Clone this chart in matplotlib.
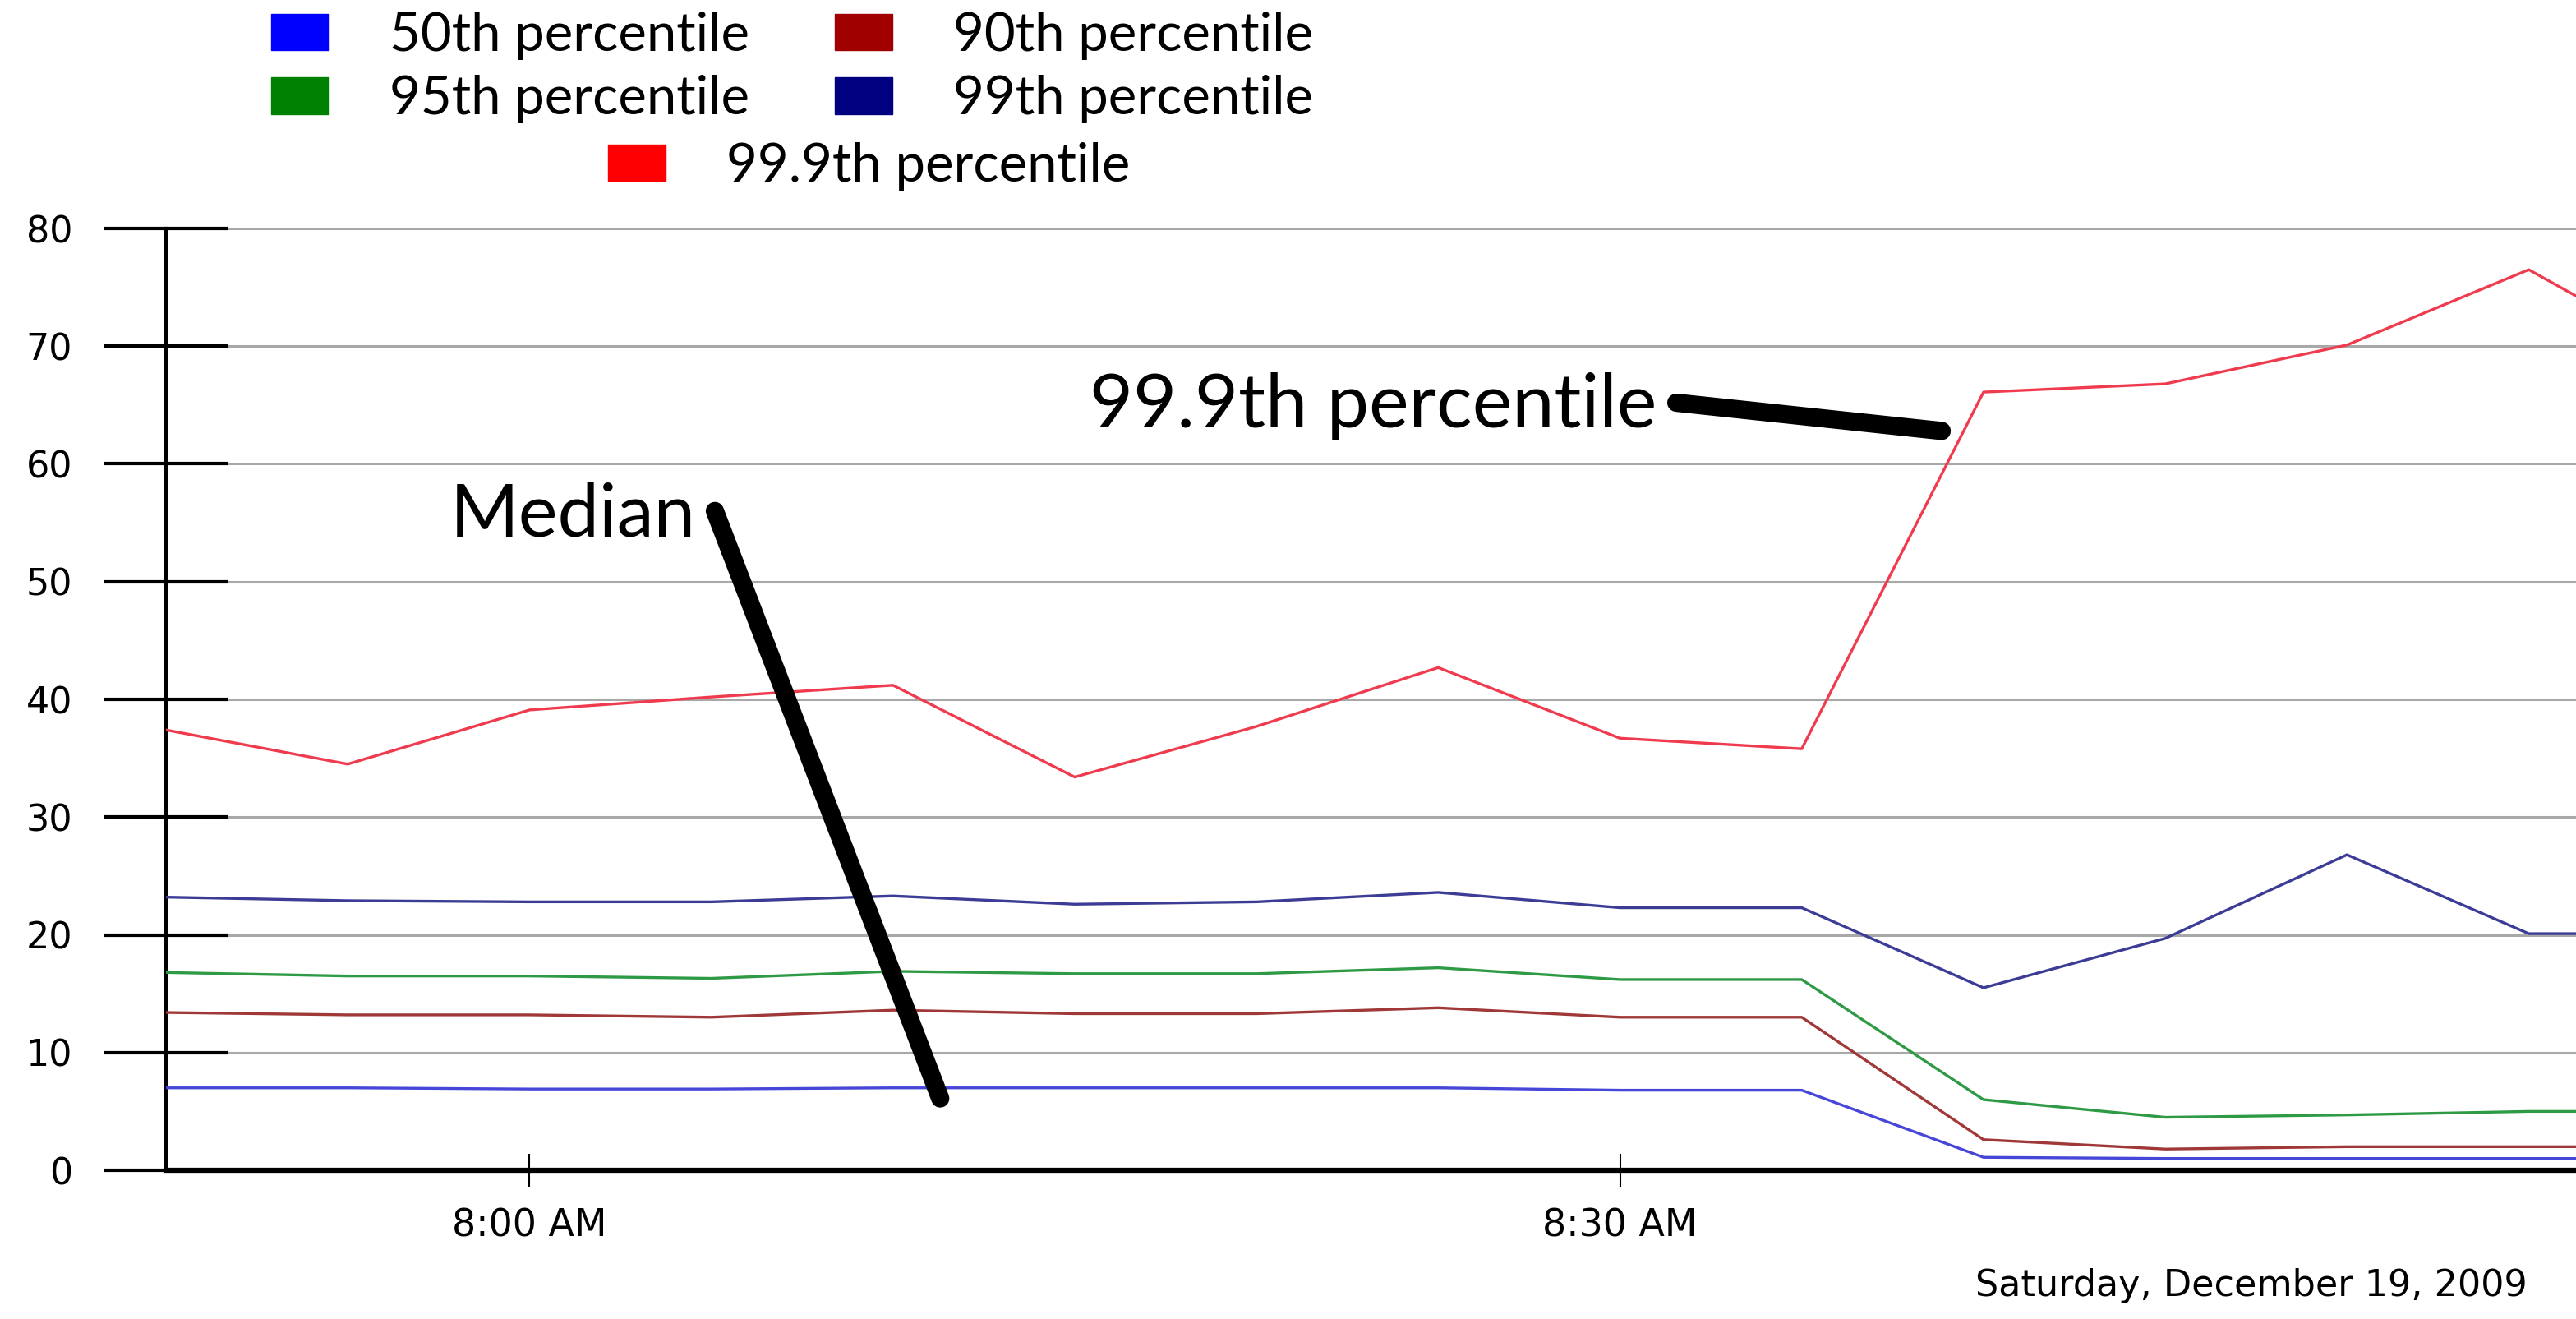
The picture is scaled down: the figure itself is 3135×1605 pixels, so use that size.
import numpy as np
import pandas as pd
import matplotlib
matplotlib.use("Agg")
import matplotlib.pyplot as plt
import matplotlib.dates as mdates
from matplotlib.patches import Patch

# sample times, 5 minutes apart (last one falls past the right edge)
times = pd.to_datetime(["2009-12-19 07:50", "2009-12-19 07:55", "2009-12-19 08:00",
                        "2009-12-19 08:05", "2009-12-19 08:10", "2009-12-19 08:15",
                        "2009-12-19 08:20", "2009-12-19 08:25", "2009-12-19 08:30",
                        "2009-12-19 08:35", "2009-12-19 08:40", "2009-12-19 08:45",
                        "2009-12-19 08:50", "2009-12-19 08:55", "2009-12-19 09:00"])

p50  = [7.0, 7.0, 6.9, 6.9, 7.0, 7.0, 7.0, 7.0, 6.8, 6.8, 1.1, 1.0, 1.0, 1.0, 1.0]
p90  = [13.4, 13.2, 13.2, 13.0, 13.6, 13.3, 13.3, 13.8, 13.0, 13.0, 2.6, 1.8, 2.0, 2.0, 2.0]
p95  = [16.8, 16.5, 16.5, 16.3, 16.9, 16.7, 16.7, 17.2, 16.2, 16.2, 6.0, 4.5, 4.7, 5.0, 5.0]
p99  = [23.2, 22.9, 22.8, 22.8, 23.3, 22.6, 22.8, 23.6, 22.3, 22.3, 15.5, 19.7, 26.8, 20.1, 20.1]
p999 = [37.4, 34.5, 39.1, 40.2, 41.2, 33.4, 37.7, 42.7, 36.7, 35.8, 66.1, 66.8, 70.1, 76.5, 67.9]

names = ["50th percentile", "90th percentile", "95th percentile", "99th percentile", "99.9th percentile"]
key_colors = ["#0000ff", "#a00000", "#008000", "#000080", "#ff0000"]
line_colors = ["#4646d8", "#a03838", "#2e9a46", "#3c3c96", "#f03a4e"]

W, H = 3135, 1605
fig = plt.figure(figsize=(W / 100, H / 100), dpi=100)
ax = fig.add_axes([202 / W, 1 - 1424 / H, 1 - 202 / W, (1424 - 278) / H])

for vals, c in zip([p50, p90, p95, p99, p999], line_colors):
    ax.plot(times, vals, color=c, lw=2.4, zorder=3)

ax.set_ylim(0, 80)
ax.set_yticks(np.arange(0, 81, 10))
ax.set_xlim(pd.Timestamp("2009-12-19 07:50"), pd.Timestamp("2009-12-19 08:56:18"))
ax.set_xticks(pd.to_datetime(["2009-12-19 08:00", "2009-12-19 08:30"]))
ax.xaxis.set_major_formatter(mdates.DateFormatter("%-I:%M %p"))

ax.grid(axis="y", color="#a8a8a8", lw=2.2, zorder=1)
ax.grid(axis="x", visible=False)
for s in ["top", "right"]:
    ax.spines[s].set_visible(False)
ax.spines["left"].set_linewidth(3)
ax.spines["bottom"].set_linewidth(4.5)
ax.tick_params(axis="y", direction="inout", length=108, width=3, pad=28, labelsize=32)
ax.tick_params(axis="x", direction="inout", length=29, width=1.5, pad=18, labelsize=33)

# hand drawn pointers
ax.text(pd.Timestamp("2009-12-19 08:04:35"), 55.6, "Median", family="Lato",
        fontsize=65, ha="right", va="center", zorder=5)
ax.plot(pd.to_datetime(["2009-12-19 08:05:06", "2009-12-19 08:11:18"]), [56.0, 6.1],
        color="black", lw=16, solid_capstyle="round", zorder=5)
ax.text(pd.Timestamp("2009-12-19 08:31:00"), 64.9, "99.9th percentile", family="Lato",
        fontsize=66, ha="right", va="center", zorder=5)
ax.plot(pd.to_datetime(["2009-12-19 08:31:33", "2009-12-19 08:38:51"]), [65.2, 62.8],
        color="black", lw=16, solid_capstyle="round", zorder=5)

h = [Patch(color=c) for c in key_colors]
fs = 47
fig.legend([h[0], h[2], h[1], h[3]], [names[0], names[2], names[1], names[3]],
           ncol=2, loc="upper left", bbox_to_anchor=(330 / W, 1 - 14 / H),
           frameon=False, borderpad=0, borderaxespad=0,
           prop={"family": "Lato", "size": fs},
           handlelength=1.07, handleheight=0.67, handletextpad=1.13,
           columnspacing=1.6, labelspacing=0.28)
fig.legend([h[4]], [names[4]], loc="upper left", bbox_to_anchor=(740 / W, 1 - 173 / H),
           frameon=False, borderpad=0, borderaxespad=0,
           prop={"family": "Lato", "size": fs},
           handlelength=1.07, handleheight=0.67, handletextpad=1.13)

fig.text(3076 / W, 1 - 1564 / H, "Saturday, December 19, 2009", ha="right", va="center",
         fontsize=32)

fig.savefig("out.png", dpi=100)
